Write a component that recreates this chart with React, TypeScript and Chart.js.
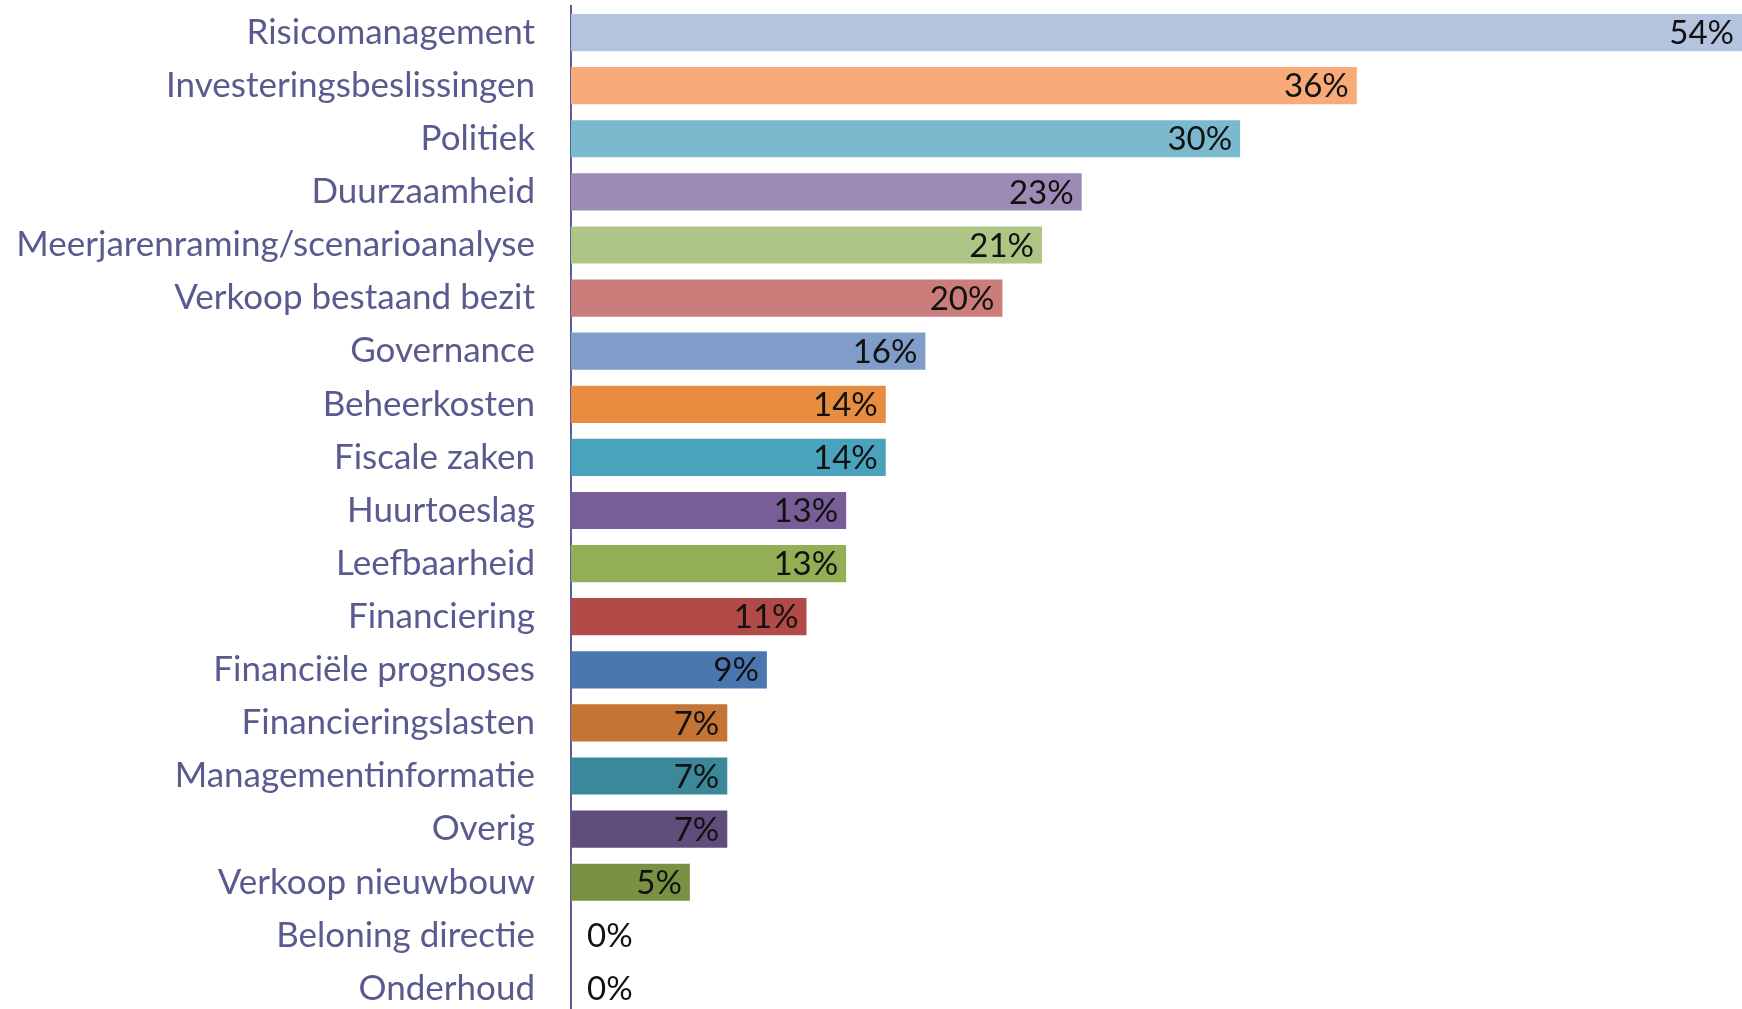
import React, { useEffect, useRef } from "react";
import { Chart, registerables } from "chart.js";

Chart.register(...registerables);

const categories = [
  "Risicomanagement",
  "Investeringsbeslissingen",
  "Politiek",
  "Duurzaamheid",
  "Meerjarenraming/scenarioanalyse",
  "Verkoop bestaand bezit",
  "Governance",
  "Beheerkosten",
  "Fiscale zaken",
  "Huurtoeslag",
  "Leefbaarheid",
  "Financiering",
  "Financiële prognoses",
  "Financieringslasten",
  "Managementinformatie",
  "Overig",
  "Verkoop nieuwbouw",
  "Beloning directie",
  "Onderhoud",
];

const values = [53.6, 35.7, 30.4, 23.2, 21.4, 19.6, 16.1, 14.3, 14.3, 12.5, 12.5, 10.7, 8.9, 7.1, 7.1, 7.1, 5.4, 0, 0];

const barColors = [
  "#B4C3DE",
  "#F8AB79",
  "#7BB9CF",
  "#9D8BB5",
  "#AEC685",
  "#CB7D7B",
  "#7F9DC8",
  "#E88C40",
  "#49A3BC",
  "#775E96",
  "#92AF55",
  "#B24B48",
  "#4A77B0",
  "#C47535",
  "#3A8899",
  "#614D7C",
  "#7A9143",
  "#8064A2",
  "#4BACC6",
];

const labelColor = "#595B8F";
const axisColor = "#5D6098";

const dataLabelPlugin = {
  id: "dataLabels",
  afterDatasetsDraw(chart: any) {
    const ctx = chart.ctx;
    const meta = chart.getDatasetMeta(0);
    const ds = chart.data.datasets[0];
    const right = chart.chartArea.right;
    ctx.save();
    ctx.font = "33px Lato";
    ctx.fillStyle = "#111111";
    ctx.textBaseline = "middle";
    meta.data.forEach((el: any, i: number) => {
      const v = ds.data[i] as number;
      const txt = Math.round(v) + "%";
      if (v === 0) {
        ctx.textAlign = "left";
        ctx.fillText(txt, el.base + 16, el.y + 1);
      } else {
        ctx.textAlign = "right";
        ctx.fillText(txt, Math.min(el.x, right) - 8, el.y + 1);
      }
    });
    ctx.restore();
  },
};

export default function App() {
  const canvasRef = useRef<HTMLCanvasElement | null>(null);

  useEffect(() => {
    if (!canvasRef.current) return;
    const chart = new Chart(canvasRef.current, {
      type: "bar",
      data: {
        labels: categories,
        datasets: [
          {
            data: values,
            backgroundColor: barColors,
            borderWidth: 0,
            barPercentage: 0.7,
            categoryPercentage: 1,
          },
        ],
      },
      options: {
        indexAxis: "y",
        animation: false,
        responsive: true,
        maintainAspectRatio: false,
        layout: { padding: { top: 6, right: 0, bottom: 0, left: 0 } },
        plugins: {
          legend: { display: false },
          tooltip: { enabled: false },
        },
        scales: {
          x: {
            display: false,
            min: 0,
            max: 53.2,
          },
          y: {
            grid: { display: false, drawTicks: false },
            border: { display: true, color: axisColor, width: 2 },
            ticks: {
              color: labelColor,
              font: { family: "Lato", size: 35 },
              padding: 36,
              autoSkip: false,
            },
            afterFit(scale: any) {
              scale.width = 571;
              scale.paddingTop = 0;
              scale.paddingBottom = 0;
            },
          },
        },
      },
      plugins: [dataLabelPlugin],
    });
    return () => chart.destroy();
  }, []);

  return (
    <div style={{ position: "fixed", left: 0, top: 0, width: 1742, height: 1009, overflow: "hidden", background: "#fff" }}>
      <div style={{ position: "relative", width: 1742, height: 1015 }}>
        <canvas ref={canvasRef} />
      </div>
    </div>
  );
}
